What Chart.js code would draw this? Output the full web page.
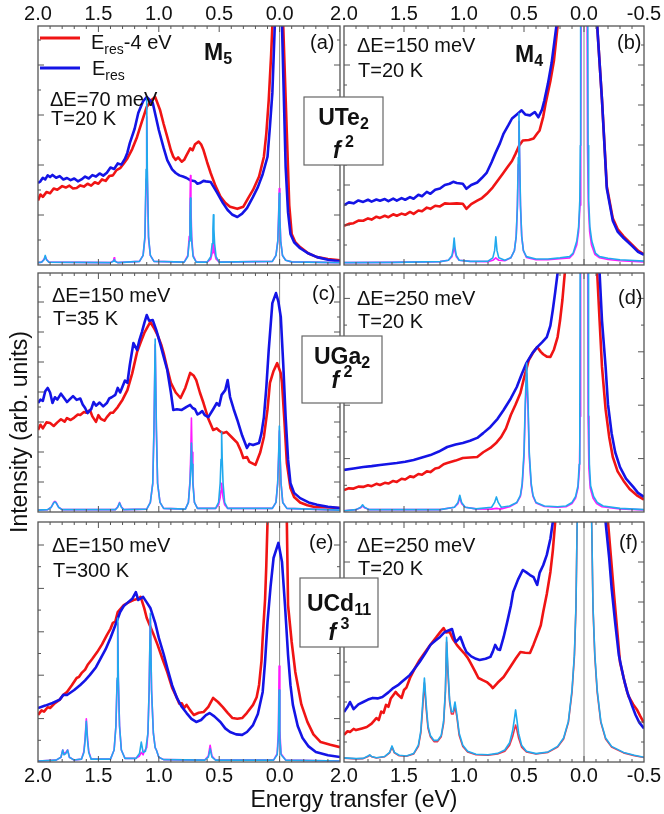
<!DOCTYPE html>
<html>
<head>
<meta charset="utf-8">
<script src="https://cdn.jsdelivr.net/npm/chart.js@4.4.0/dist/chart.umd.min.js"></script>
<style>
  body { margin: 0; background: #fff; }
  #wrap { position: relative; width: 664px; height: 814px; overflow: hidden; }
  #wrap canvas, #notes { position: absolute; left: 0; top: 0; }
</style>
</head>
<body>
<div id="wrap">
<svg id="notes" width="664" height="814" font-family="'Liberation Sans', Arial, sans-serif" fill="#111">
  <!-- legend (a) -->
  <line x1="40" y1="38" x2="80" y2="38" stroke="#f01414" stroke-width="3"/>
  <text x="91" y="49" font-size="20">E<tspan font-size="14" dy="5">res</tspan><tspan dy="-5">-4 eV</tspan></text>
  <line x1="40" y1="68" x2="80" y2="68" stroke="#1414e6" stroke-width="3"/>
  <text x="92" y="75" font-size="20">E<tspan font-size="14" dy="5">res</tspan></text>

  <text x="204" y="60" font-size="23" font-weight="bold">M<tspan font-size="16" dy="4">5</tspan></text>
  <text x="515" y="62" font-size="23" font-weight="bold">M<tspan font-size="16" dy="4">4</tspan></text>

  <text x="50" y="106" font-size="20">ΔE=70 meV</text>
  <text x="51" y="125" font-size="20">T=20 K</text>
  <text x="310" y="49" font-size="20">(a)</text>

  <text x="357" y="52" font-size="20">ΔE=150 meV</text>
  <text x="358" y="77" font-size="20">T=20 K</text>
  <text x="617" y="49" font-size="20">(b)</text>

  <text x="52" y="302" font-size="20">ΔE=150 meV</text>
  <text x="53" y="325" font-size="20">T=35 K</text>
  <text x="312" y="300" font-size="20">(c)</text>

  <text x="357" y="305" font-size="20">ΔE=250 meV</text>
  <text x="358" y="328" font-size="20">T=20 K</text>
  <text x="618" y="304" font-size="20">(d)</text>

  <text x="52" y="552" font-size="20">ΔE=150 meV</text>
  <text x="53" y="577" font-size="20">T=300 K</text>
  <text x="309" y="549" font-size="20">(e)</text>

  <text x="357" y="552" font-size="20">ΔE=250 meV</text>
  <text x="358" y="575" font-size="20">T=20 K</text>
  <text x="619" y="549" font-size="20">(f)</text>

  <!-- compound boxes -->
  <rect x="304" y="97" width="79" height="68" fill="#fff" stroke="#666" stroke-width="1.2"/>
  <text x="343.5" y="125" text-anchor="middle" font-size="23" font-weight="bold">UTe<tspan font-size="16" dy="4">2</tspan></text>
  <text x="343.5" y="158" text-anchor="middle" font-size="23" font-weight="bold"><tspan font-style="italic">f</tspan><tspan font-size="16" dy="-11"> 2</tspan></text>

  <rect x="302" y="336" width="80" height="67" fill="#fff" stroke="#666" stroke-width="1.2"/>
  <text x="342" y="364" text-anchor="middle" font-size="23" font-weight="bold">UGa<tspan font-size="16" dy="4">2</tspan></text>
  <text x="342" y="388" text-anchor="middle" font-size="23" font-weight="bold"><tspan font-style="italic">f</tspan><tspan font-size="16" dy="-11"> 2</tspan></text>

  <rect x="300" y="578" width="78" height="69" fill="#fff" stroke="#666" stroke-width="1.2"/>
  <text x="339" y="611" text-anchor="middle" font-size="23" font-weight="bold">UCd<tspan font-size="16" dy="4">11</tspan></text>
  <text x="339" y="640" text-anchor="middle" font-size="23" font-weight="bold"><tspan font-style="italic">f</tspan><tspan font-size="16" dy="-11"> 3</tspan></text>

  <!-- axis titles -->
  <text transform="translate(27,432) rotate(-90)" text-anchor="middle" font-size="23">Intensity (arb. units)</text>
  <text x="354" y="807" text-anchor="middle" font-size="23">Energy transfer (eV)</text>
</svg>
</div>
<script>
// energy transfer (eV) vs intensity (percent of panel height)

// (a) UTe2 M5
const aRed = [[2.0,27],[1.98,29.5],[1.96,28.5],[1.93,30.5],[1.90,30],[1.87,32],[1.84,31.5],[1.80,33],[1.77,32.4],[1.74,33.2],[1.71,32],[1.68,32.2],[1.65,33.3],[1.62,32.8],[1.59,34],[1.56,33.2],[1.53,34.6],[1.50,34],[1.47,35.8],[1.44,35.2],[1.41,37.2],[1.38,37.5],[1.35,39.7],[1.32,40.5],[1.29,42.5],[1.26,44.6],[1.22,48.5],[1.18,53.6],[1.14,60],[1.10,66.1],[1.06,69],[1.03,70.3],[0.99,64.9],[0.96,59],[0.93,53.6],[0.90,48],[0.88,45.3],[0.86,44],[0.84,45],[0.81,43.2],[0.79,44],[0.77,46],[0.74,48.8],[0.72,48],[0.70,50.5],[0.67,51.6],[0.65,50.5],[0.63,48.1],[0.60,43],[0.57,38.4],[0.53,33],[0.49,28.6],[0.45,26],[0.41,24.4],[0.35,23.5],[0.30,24.4],[0.26,28],[0.22,31.4],[0.17,37],[0.13,45.3],[0.11,55],[0.09,69],[0.07,88],[0.06,100],[0.02,160],[-0.03,100],[-0.06,55],[-0.08,25],[-0.10,13],[-0.13,9.5],[-0.17,7.5],[-0.24,4.8],[-0.31,3.3],[-0.40,2.5],[-0.5,2]];
const aBlue = [[2.0,34.3],[1.98,35],[1.96,36.5],[1.94,35.8],[1.92,37.5],[1.90,36.8],[1.88,37.7],[1.85,36.5],[1.82,37.2],[1.79,35.8],[1.76,36.4],[1.73,35.5],[1.70,36.2],[1.67,35],[1.64,35.8],[1.61,37],[1.58,36.2],[1.55,37.6],[1.52,37],[1.49,38.3],[1.46,37.4],[1.43,38.6],[1.40,40.8],[1.37,40.2],[1.34,42.5],[1.31,42],[1.28,44.5],[1.26,47],[1.25,49],[1.24,51],[1.20,57],[1.17,63.6],[1.13,68.5],[1.10,70.3],[1.05,67.8],[1.00,56.5],[0.96,49],[0.93,43.9],[0.89,40],[0.86,38.5],[0.83,37.5],[0.80,37],[0.77,36.4],[0.74,35.5],[0.70,35],[0.68,34],[0.66,34.3],[0.63,35.2],[0.61,35],[0.57,34.7],[0.52,30.5],[0.47,26],[0.43,23],[0.39,21],[0.35,20.1],[0.31,21.5],[0.27,23.8],[0.22,28.5],[0.18,32.6],[0.14,38],[0.10,45.3],[0.08,58],[0.06,72],[0.04,100],[0.01,160],[-0.02,100],[-0.05,41],[-0.07,22],[-0.09,13],[-0.12,9.5],[-0.17,7],[-0.24,4.8],[-0.31,3.3],[-0.40,2.2],[-0.5,1.5]];
const aCyan = [[2.0,1],[1.97,1.2],[1.95,2.2],[1.94,4],[1.93,2.2],[1.91,1.2],[1.40,1],[1.375,1.6],[1.37,2.2],[1.365,1.6],[1.34,1],[1.16,1.5],[1.13,4],[1.115,12],[1.105,40],[1.10,70],[1.095,40],[1.085,12],[1.07,4],[1.04,1.5],[0.79,1.2],[0.76,3.5],[0.748,10],[0.742,20],[0.738,28],[0.734,20],[0.728,10],[0.716,3.5],[0.69,1.2],[0.60,1.2],[0.57,3.5],[0.558,9],[0.552,15],[0.548,21],[0.544,15],[0.538,9],[0.526,3.5],[0.50,1.2],[0.06,1.5],[0.03,4],[0.015,10],[0.008,20],[0.003,30],[-0.002,20],[-0.009,10],[-0.024,4],[-0.05,2],[-0.1,1.3],[-0.5,1]];
const aPink = [[2.0,1],[1.97,1.2],[1.95,2.4],[1.94,3.5],[1.93,2.4],[1.91,1.2],[1.40,1],[1.375,1.8],[1.37,3],[1.365,1.8],[1.34,1],[1.16,1.5],[1.13,4],[1.115,11],[1.105,36],[1.10,62],[1.095,36],[1.085,11],[1.07,4],[1.04,1.5],[0.79,1.2],[0.76,4],[0.748,12],[0.742,25],[0.738,37.4],[0.734,25],[0.728,12],[0.716,4],[0.69,1.2],[0.60,1.2],[0.57,2.5],[0.558,5],[0.552,8],[0.548,10.5],[0.544,8],[0.538,5],[0.526,2.5],[0.50,1.2],[0.06,1.5],[0.03,4],[0.015,10],[0.008,21],[0.003,32],[-0.002,21],[-0.009,10],[-0.024,4],[-0.05,2],[-0.1,1.3],[-0.5,1]];

// (b) UTe2 M4
const bRed = [[2.0,16.4],[1.96,17.2],[1.92,17.5],[1.88,18.6],[1.84,18.5],[1.80,19.5],[1.77,19],[1.73,20.2],[1.70,19.7],[1.66,20.6],[1.63,20],[1.59,21.2],[1.56,20.6],[1.52,21.5],[1.49,21],[1.45,22.2],[1.42,21.4],[1.38,22.8],[1.35,22.5],[1.31,24],[1.28,23.5],[1.24,24.8],[1.20,24.5],[1.16,25.8],[1.12,25.6],[1.06,25.8],[1.01,25.6],[0.98,23.5],[0.94,25.5],[0.89,26.9],[0.85,28],[0.81,29.8],[0.76,32.5],[0.72,35.3],[0.68,38],[0.64,40.8],[0.60,43.5],[0.57,46.6],[0.54,50],[0.51,52.1],[0.46,52.3],[0.42,52.9],[0.39,55],[0.37,56.3],[0.34,62],[0.32,67.6],[0.28,77],[0.25,85.7],[0.22,100],[0.05,300],[-0.11,100],[-0.15,69],[-0.19,33],[-0.24,19.5],[-0.28,15],[-0.33,12],[-0.40,8.5],[-0.45,6],[-0.5,4.5]];
const bBlue = [[2.0,25],[1.96,26.2],[1.92,25.8],[1.88,27],[1.84,26.4],[1.80,27.3],[1.77,26.5],[1.73,27.4],[1.70,26.9],[1.66,27.6],[1.63,26.7],[1.59,27.8],[1.56,26.9],[1.52,28],[1.49,27.3],[1.45,28.4],[1.42,27.7],[1.38,29.4],[1.35,28.8],[1.31,30.6],[1.28,29.8],[1.24,31.5],[1.20,32],[1.16,33.5],[1.12,34],[1.09,34.8],[1.06,34.3],[1.01,34],[0.98,31.9],[0.94,33.5],[0.89,34.5],[0.85,36.5],[0.81,38.7],[0.77,43],[0.74,46.6],[0.70,51],[0.67,55],[0.63,58.5],[0.60,61.3],[0.56,63],[0.52,64.7],[0.49,63],[0.45,62.6],[0.41,64],[0.38,61.8],[0.35,65],[0.33,68.9],[0.30,76],[0.27,84.5],[0.23,100],[0.05,300],[-0.11,100],[-0.15,69],[-0.19,32],[-0.24,18.5],[-0.28,14],[-0.33,11.3],[-0.40,8],[-0.45,5.5],[-0.5,4.3]];
const bCyan = [[2.0,1],[1.6,1.1],[1.2,1.4],[1.13,2],[1.10,4],[1.09,7],[1.082,11.3],[1.074,7],[1.064,4],[1.04,2],[0.95,1.5],[0.80,1.6],[0.76,3],[0.745,6],[0.735,11.8],[0.725,6],[0.71,3],[0.66,2],[0.61,3],[0.58,6],[0.565,12],[0.555,25],[0.548,45],[0.542,63.5],[0.536,45],[0.529,25],[0.519,12],[0.505,6],[0.48,3.5],[0.40,2.5],[0.30,2.5],[0.20,3],[0.12,3.5],[0.09,5],[0.06,10],[0.045,16],[0.035,27],[0.031,50],[0.028,100],[0.0,400],[-0.031,100],[-0.034,50],[-0.039,27],[-0.049,16],[-0.065,10],[-0.095,5],[-0.13,3.5],[-0.20,2.8],[-0.3,2.2],[-0.5,1.6]];
const bPink = [[2.0,1],[1.6,1.1],[1.2,1.4],[1.13,2],[1.10,3.5],[1.09,5.5],[1.082,8],[1.074,5.5],[1.064,3.5],[1.04,2],[0.95,1.5],[0.80,1.4],[0.76,2],[0.745,2.5],[0.735,3],[0.725,2.5],[0.71,2],[0.66,1.8],[0.61,3],[0.58,6],[0.565,12],[0.555,24],[0.548,42],[0.542,60],[0.536,42],[0.529,24],[0.519,12],[0.505,6],[0.48,3.2],[0.40,2.2],[0.30,2.2],[0.20,2.6],[0.12,3],[0.09,4.5],[0.06,8.5],[0.045,14],[0.033,25],[0.027,50],[0.024,100],[0.0,400],[-0.026,100],[-0.029,50],[-0.036,25],[-0.047,14],[-0.062,8.5],[-0.09,4.5],[-0.13,3],[-0.20,2.3],[-0.3,1.8],[-0.5,1.3]];

// (c) UGa2 M5
const cRed = [[2.0,34.3],[1.98,36.5],[1.96,35],[1.93,37.5],[1.90,37.2],[1.87,36],[1.84,37.5],[1.81,38.8],[1.78,37.8],[1.76,39.3],[1.73,38.5],[1.70,39.5],[1.67,40.8],[1.65,40.6],[1.62,41.8],[1.60,41.5],[1.57,42.7],[1.55,40],[1.52,37.7],[1.50,40.5],[1.48,39],[1.45,38.2],[1.43,39.7],[1.40,41.5],[1.38,41.5],[1.34,43.9],[1.30,47],[1.26,51],[1.22,58],[1.18,66.9],[1.15,71],[1.12,74.9],[1.07,79.5],[1.04,77],[1.01,74],[0.98,70],[0.96,66.5],[0.93,60],[0.90,54],[0.86,50],[0.82,47.7],[0.78,52],[0.74,58.2],[0.71,57],[0.69,55.2],[0.66,50],[0.63,45.6],[0.59,39],[0.55,34.3],[0.52,35],[0.50,34],[0.47,33],[0.44,33.5],[0.40,31.5],[0.35,28.9],[0.32,25.5],[0.30,22.6],[0.27,23],[0.25,21],[0.20,19.7],[0.16,25],[0.13,31.4],[0.10,43],[0.08,54],[0.05,59],[0.02,62.3],[-0.01,58],[-0.02,54],[-0.04,38],[-0.06,20.5],[-0.09,10],[-0.12,6.3],[-0.17,4],[-0.23,2.8],[-0.29,2.1],[-0.4,1.9],[-0.5,1.7]];
const cBlue = [[2.0,45.6],[1.98,47],[1.96,46.5],[1.94,50.5],[1.92,51.9],[1.90,50],[1.88,45.6],[1.86,48],[1.84,47],[1.81,49.5],[1.79,48.1],[1.76,46],[1.74,47],[1.71,48.5],[1.68,46.9],[1.65,47.5],[1.63,45],[1.61,43.5],[1.59,41.4],[1.56,43],[1.54,46],[1.52,44.5],[1.49,45.8],[1.46,44.2],[1.43,45.6],[1.41,47.5],[1.39,48],[1.36,49],[1.34,51.9],[1.32,50],[1.30,52.5],[1.28,55],[1.26,54],[1.24,61.5],[1.21,70.7],[1.18,67.8],[1.16,72],[1.14,75.3],[1.12,79],[1.10,82.4],[1.08,80],[1.05,80.3],[1.02,76],[0.99,70.7],[0.96,65],[0.93,59.4],[0.90,50],[0.88,42.7],[0.85,43],[0.81,42.7],[0.77,44],[0.74,44.8],[0.72,43.5],[0.70,43],[0.68,40.8],[0.66,41.4],[0.64,42.2],[0.62,40.5],[0.59,39.7],[0.55,43],[0.52,45.6],[0.50,44.5],[0.48,49],[0.45,51],[0.43,55.2],[0.41,48.1],[0.38,43],[0.35,38.5],[0.31,32],[0.27,26.8],[0.25,28.5],[0.22,28],[0.17,28.9],[0.15,33],[0.13,39.7],[0.11,52],[0.09,67.8],[0.06,87.4],[0.03,91.6],[0.01,88],[-0.01,81.6],[-0.03,62],[-0.05,39.7],[-0.07,22],[-0.09,12],[-0.12,8],[-0.17,5.8],[-0.24,4],[-0.31,3],[-0.4,2.2],[-0.5,1.7]];
const cCyan = [[2.0,0.8],[1.92,1],[1.89,2],[1.87,3.8],[1.86,4.2],[1.85,3.8],[1.83,2],[1.80,1],[1.36,1],[1.34,2],[1.325,3.8],[1.31,2],[1.29,1],[1.10,1.2],[1.07,4],[1.05,12],[1.04,35],[1.03,72.4],[1.02,35],[1.01,12],[0.99,4],[0.96,1.5],[0.78,1.2],[0.755,4],[0.742,12],[0.735,20],[0.73,28.9],[0.725,20],[0.718,12],[0.705,4],[0.68,1.5],[0.53,1.5],[0.505,4],[0.492,12],[0.485,22],[0.48,33.5],[0.475,22],[0.468,12],[0.455,4],[0.43,1.5],[0.06,1.5],[0.03,4],[0.016,12],[0.008,24],[0.002,36],[-0.004,24],[-0.012,12],[-0.026,4],[-0.06,1.5],[-0.5,0.8]];
const cPink = [[2.0,0.8],[1.92,1],[1.89,2],[1.87,4],[1.86,4.5],[1.85,4],[1.83,2],[1.80,1],[1.36,1],[1.34,2.2],[1.325,4],[1.31,2.2],[1.29,1],[1.10,1.2],[1.07,4],[1.05,12],[1.04,34],[1.03,70],[1.02,34],[1.01,12],[0.99,4],[0.96,1.5],[0.78,1.2],[0.755,4],[0.742,13],[0.735,25],[0.73,39.3],[0.725,25],[0.718,13],[0.705,4],[0.68,1.5],[0.53,1.5],[0.505,3],[0.492,6],[0.485,9],[0.48,12],[0.475,9],[0.468,6],[0.455,3],[0.43,1.5],[0.06,1.5],[0.03,4],[0.016,12],[0.008,23],[0.002,34],[-0.004,23],[-0.012,12],[-0.026,4],[-0.06,1.5],[-0.5,0.8]];

// (d) UGa2 M4
const dRed = [[2.0,9.2],[1.96,9.9],[1.92,9.8],[1.88,10.6],[1.84,10.5],[1.80,11.2],[1.77,10.8],[1.73,11.8],[1.70,11.3],[1.66,12.2],[1.63,11.9],[1.59,13],[1.56,12.6],[1.52,13.9],[1.49,13.6],[1.45,14.9],[1.42,14.6],[1.38,15.9],[1.35,15.6],[1.31,17],[1.28,16.7],[1.24,18.2],[1.21,18.5],[1.17,20],[1.14,20.5],[1.07,21.5],[1.01,22.6],[0.95,22.8],[0.89,23],[0.84,25],[0.78,26.8],[0.73,29],[0.69,31.4],[0.65,35],[0.61,40.6],[0.57,45],[0.53,49.8],[0.50,56],[0.46,63.6],[0.42,67],[0.39,69],[0.36,67],[0.34,66],[0.31,65],[0.28,64.9],[0.25,68],[0.22,73.2],[0.20,80],[0.18,88.7],[0.16,100],[0.0,300],[-0.11,100],[-0.13,80],[-0.15,60.7],[-0.18,43],[-0.21,31.4],[-0.24,23],[-0.28,17],[-0.33,13],[-0.38,9.6],[-0.44,7],[-0.5,5.2]];
const dBlue = [[2.0,17.6],[1.92,18.2],[1.84,18.8],[1.77,19.2],[1.70,19.7],[1.63,20.1],[1.56,20.5],[1.49,21],[1.42,21.8],[1.35,22.8],[1.28,23.8],[1.21,25.3],[1.14,27.2],[1.07,28.2],[1.01,28.9],[0.95,29.8],[0.89,31],[0.84,33],[0.78,35.6],[0.72,39],[0.67,42.7],[0.61,47.5],[0.56,52.3],[0.52,57.5],[0.48,62.3],[0.43,66.5],[0.39,69],[0.35,71],[0.31,73.2],[0.28,78],[0.26,84.5],[0.24,92],[0.22,100],[0.05,300],[-0.13,100],[-0.15,80],[-0.18,60.7],[-0.20,45],[-0.23,33],[-0.26,25],[-0.30,18.8],[-0.35,14],[-0.41,10.5],[-0.45,8],[-0.5,6.3]];
const dCyan = [[2.0,0.5],[1.90,1],[1.86,2],[1.845,3],[1.83,2],[1.79,1],[1.2,1],[1.08,2],[1.05,4],[1.035,7],[1.02,4],[0.99,2],[0.90,1.3],[0.77,2],[0.745,4],[0.73,6.3],[0.715,4],[0.69,2],[0.62,2.5],[0.56,4],[0.53,7],[0.515,12],[0.50,25],[0.49,45],[0.478,62.3],[0.466,45],[0.456,25],[0.44,12],[0.425,7],[0.40,4],[0.33,2.5],[0.22,2.2],[0.15,2.5],[0.10,4],[0.07,6.5],[0.05,11],[0.04,20],[0.035,40],[0.032,100],[0.0,400],[-0.035,100],[-0.038,40],[-0.045,20],[-0.055,11],[-0.08,6.5],[-0.11,4],[-0.16,2.5],[-0.3,1.5],[-0.5,1]];
const dPink = [[2.0,0.5],[1.90,1],[1.86,1.8],[1.845,2.5],[1.83,1.8],[1.79,1],[1.2,1],[1.08,2],[1.05,3.5],[1.035,6],[1.02,3.5],[0.99,2],[0.90,1.3],[0.77,1.2],[0.745,1.4],[0.73,1.5],[0.715,1.4],[0.69,1.3],[0.62,2.2],[0.56,3.8],[0.53,6.5],[0.515,11],[0.50,23],[0.49,42],[0.478,58],[0.466,42],[0.456,23],[0.44,11],[0.425,6.5],[0.40,3.8],[0.33,2.3],[0.22,2],[0.15,2.2],[0.10,3.5],[0.07,5.8],[0.05,10],[0.038,18],[0.032,40],[0.028,100],[0.0,400],[-0.031,100],[-0.034,40],[-0.041,18],[-0.052,10],[-0.075,5.8],[-0.105,3.5],[-0.15,2.2],[-0.3,1.3],[-0.5,0.9]];

// (e) UCd11 M5
const eRed = [[2.0,19.6],[1.97,21.5],[1.95,21],[1.92,22.8],[1.90,22.5],[1.86,24.5],[1.82,26],[1.79,28],[1.76,29.2],[1.72,32],[1.68,35],[1.66,35.5],[1.64,37],[1.61,38.5],[1.59,40.4],[1.55,43],[1.51,45.8],[1.47,49],[1.43,52.9],[1.40,55.5],[1.38,58],[1.36,58.5],[1.34,62.5],[1.29,65.4],[1.25,66.5],[1.21,67.5],[1.17,68],[1.15,68.8],[1.12,64],[1.10,60],[1.05,54],[1.01,48.8],[0.97,43],[0.93,37.5],[0.89,31],[0.85,26.7],[0.83,24.3],[0.81,24.5],[0.79,22.5],[0.77,23.8],[0.74,21.5],[0.71,19.6],[0.67,20.5],[0.63,20.8],[0.59,23],[0.55,26.7],[0.51,25],[0.47,22.9],[0.43,20.5],[0.39,18.3],[0.35,18],[0.31,18.3],[0.27,20.5],[0.22,23.8],[0.19,27],[0.17,32.1],[0.15,42],[0.14,51.7],[0.12,68],[0.11,82],[0.10,100],[0.02,200],[-0.06,100],[-0.07,65.4],[-0.10,50],[-0.13,37.5],[-0.18,24],[-0.23,16.7],[-0.28,11.5],[-0.34,8.3],[-0.42,7.2],[-0.5,6.2]];
const eBlue = [[2.0,22.5],[1.94,23.5],[1.88,24.6],[1.82,26],[1.79,28],[1.76,27.9],[1.70,30],[1.65,32.1],[1.61,34],[1.57,36.3],[1.52,39.5],[1.48,43.3],[1.44,47],[1.40,51.7],[1.36,57],[1.32,62.5],[1.29,65],[1.26,66.3],[1.22,68],[1.19,70.8],[1.17,67.5],[1.13,68.8],[1.10,66.5],[1.07,64.2],[1.03,58],[1.00,51.7],[0.96,45],[0.93,39.2],[0.89,32],[0.85,26.7],[0.81,23],[0.77,20.4],[0.73,18],[0.69,16.7],[0.65,17.5],[0.61,19.5],[0.58,20.4],[0.54,19],[0.49,16.7],[0.45,14],[0.41,12.5],[0.36,11.5],[0.31,11.3],[0.27,12.5],[0.22,15.4],[0.18,20],[0.14,29.2],[0.12,42],[0.10,58.3],[0.075,73],[0.05,85],[0.01,91.3],[-0.02,83.3],[-0.045,65],[-0.07,44.6],[-0.09,32],[-0.11,23.8],[-0.15,15],[-0.19,10],[-0.24,6.5],[-0.30,4.2],[-0.40,2.8],[-0.5,2.1]];
const eCyan = [[2.0,0.4],[1.85,0.8],[1.81,2],[1.795,5],[1.785,3],[1.77,3.5],[1.755,5],[1.74,2],[1.70,0.8],[1.64,1.2],[1.62,4],[1.61,9],[1.60,17],[1.59,9],[1.58,4],[1.56,1.2],[1.40,1.2],[1.37,5],[1.355,15],[1.345,35],[1.34,60],[1.335,35],[1.325,15],[1.31,5],[1.28,1.5],[1.19,1.5],[1.16,3.5],[1.145,8.3],[1.13,4],[1.11,4.5],[1.09,12],[1.08,30],[1.07,62],[1.06,30],[1.045,12],[1.03,6],[1.02,5],[1.00,2],[0.96,1],[0.62,0.8],[0.59,2],[0.575,5.5],[0.56,2],[0.53,0.8],[0.05,0.8],[0.02,3],[0.01,10],[0.004,30],[-0.002,10],[-0.012,3],[-0.05,0.8],[-0.5,0.4]];
const ePink = [[2.0,0.4],[1.85,0.8],[1.81,2],[1.795,5],[1.785,3.5],[1.77,4],[1.755,5],[1.74,2],[1.70,0.8],[1.64,1.2],[1.62,4.5],[1.61,10],[1.60,18],[1.59,10],[1.58,4.5],[1.56,1.2],[1.40,1.2],[1.37,5],[1.355,15],[1.345,34],[1.34,58],[1.335,34],[1.325,15],[1.31,5],[1.28,1.5],[1.19,1.5],[1.16,2.5],[1.145,4],[1.13,3],[1.12,4.5],[1.10,6],[1.09,12],[1.08,30],[1.07,60],[1.06,30],[1.045,12],[1.03,6],[1.02,5],[1.00,2],[0.96,1],[0.62,0.8],[0.59,2.5],[0.575,7],[0.56,2.5],[0.53,0.8],[0.05,0.8],[0.02,3.5],[0.01,13],[0.004,40],[-0.002,13],[-0.012,3.5],[-0.05,0.8],[-0.5,0.4]];

// (f) UCd11 M4
const fRed = [[2.0,11.3],[1.97,12.8],[1.95,12.5],[1.92,13.8],[1.90,13.3],[1.85,14],[1.81,14.6],[1.77,16],[1.73,18.3],[1.71,17.5],[1.69,21],[1.67,20.5],[1.65,23.8],[1.63,23],[1.61,26.5],[1.57,29.2],[1.55,28],[1.52,26.7],[1.50,30],[1.48,31],[1.45,35],[1.41,39],[1.37,42.5],[1.32,46],[1.28,48.8],[1.23,52.1],[1.20,54],[1.17,55.8],[1.15,54],[1.12,54.2],[1.09,51],[1.06,48.8],[1.03,47],[1.00,45.4],[0.97,43.5],[0.95,41.7],[0.91,38],[0.88,35],[0.84,34],[0.81,33.3],[0.78,32],[0.76,30.8],[0.72,33],[0.67,35.4],[0.62,39.2],[0.57,43],[0.53,45.8],[0.49,45.5],[0.45,45.4],[0.42,49],[0.39,52.9],[0.36,57],[0.34,62.5],[0.31,70],[0.28,79.2],[0.26,88],[0.24,100],[0.02,300],[-0.2,100],[-0.23,82],[-0.25,70],[-0.28,53],[-0.30,41.6],[-0.34,33],[-0.37,27.5],[-0.41,24],[-0.44,21.9],[-0.47,19],[-0.5,16.3]];
const fBlue = [[2.0,20.8],[1.97,23],[1.95,25],[1.92,22],[1.88,24],[1.84,25],[1.80,26],[1.76,26.7],[1.72,26.5],[1.68,27.1],[1.63,29],[1.59,30.8],[1.55,32],[1.52,33.3],[1.48,35],[1.45,36.3],[1.41,39],[1.37,41.7],[1.32,45.5],[1.28,48.8],[1.24,50.5],[1.20,52.1],[1.16,54.2],[1.13,54.8],[1.10,55.4],[1.07,50],[1.05,51],[1.03,52.1],[1.00,48],[0.98,45.8],[0.94,44],[0.90,43],[0.87,42.5],[0.82,43],[0.78,43.8],[0.76,46],[0.74,48.8],[0.72,47],[0.70,46.7],[0.67,52],[0.64,58.3],[0.61,65],[0.59,70.8],[0.55,76],[0.51,80],[0.48,79],[0.45,77.9],[0.42,77],[0.39,73.8],[0.37,78.8],[0.34,82],[0.31,86.3],[0.28,93],[0.26,100],[0.05,300],[-0.18,100],[-0.21,85],[-0.23,72.5],[-0.26,58],[-0.29,44.6],[-0.33,35],[-0.36,29.2],[-0.40,23.5],[-0.43,19.6],[-0.46,16.5],[-0.5,14]];
const fCyan = [[2.0,1.7],[1.90,1.4],[1.84,1.5],[1.80,2.5],[1.785,3],[1.77,2.3],[1.73,1.8],[1.66,2.3],[1.62,4],[1.60,6.7],[1.58,4],[1.54,2.8],[1.48,2.5],[1.42,3.5],[1.38,7],[1.36,13],[1.345,24],[1.33,35],[1.315,24],[1.30,15],[1.28,11],[1.25,9],[1.22,9],[1.19,11],[1.17,17],[1.155,30],[1.145,52],[1.135,40],[1.12,26],[1.105,21],[1.09,21],[1.075,25],[1.06,20],[1.04,12],[1.01,7],[0.97,4.5],[0.90,3.2],[0.80,3],[0.72,3.6],[0.66,5],[0.62,8],[0.595,13],[0.58,18],[0.57,21.7],[0.56,18],[0.545,12],[0.52,7],[0.48,4.5],[0.40,3.5],[0.30,4.2],[0.22,6.5],[0.17,10],[0.13,17],[0.10,30],[0.08,45],[0.067,65],[0.057,100],[0.0,400],[-0.064,100],[-0.075,65],[-0.09,45],[-0.11,30],[-0.14,17],[-0.18,10],[-0.23,6.5],[-0.33,4],[-0.42,2.8],[-0.5,2]];
const fPink = [[2.0,1.6],[1.90,1.3],[1.84,1.4],[1.80,2.3],[1.785,2.8],[1.77,2.2],[1.73,1.7],[1.66,2.2],[1.62,3.8],[1.60,6.2],[1.58,3.8],[1.54,2.6],[1.48,2.4],[1.42,3.3],[1.38,6.5],[1.36,12],[1.345,22],[1.33,33],[1.315,22],[1.30,14],[1.28,10.5],[1.25,8.5],[1.22,8.5],[1.19,10.5],[1.17,16],[1.155,29],[1.145,50],[1.135,38],[1.12,25],[1.105,20],[1.09,20],[1.075,23],[1.06,19],[1.04,11],[1.01,6.5],[0.97,4.2],[0.90,3],[0.80,2.8],[0.72,3.3],[0.66,4.5],[0.62,7],[0.595,10.5],[0.58,13.5],[0.57,15.4],[0.56,13.5],[0.545,10],[0.52,6.2],[0.48,4.2],[0.40,3.3],[0.30,4],[0.22,6.2],[0.17,9.6],[0.13,16.5],[0.10,29],[0.08,44],[0.067,64],[0.057,100],[0.0,400],[-0.064,100],[-0.075,64],[-0.09,44],[-0.11,29],[-0.14,16.5],[-0.18,9.6],[-0.23,6.2],[-0.33,3.8],[-0.42,2.6],[-0.5,1.9]];

// layout of the 2 x 3 grid (pixels)
const rows = [{top: 26, bottom: 265}, {top: 273, bottom: 512}, {top: 522, bottom: 762}];
const cols = [{left: 38, right: 340}, {left: 344, right: 644}];
const TOP_AXIS = 26, BOTTOM_AXIS = 30;

const RED = '#f01414', BLUE = '#1414e6', CYAN = '#21a9ee', PINK = '#ff1aff';

const panels = [
  {row: 0, col: 0, red: aRed, blue: aBlue, cyan: aCyan, pink: aPink, pinkColor: PINK, tickPx: 25},
  {row: 0, col: 1, red: bRed, blue: bBlue, cyan: bCyan, pink: bPink, pinkColor: PINK, tickPx: 20},
  {row: 1, col: 0, red: cRed, blue: cBlue, cyan: cCyan, pink: cPink, pinkColor: PINK, tickPx: 15},
  {row: 1, col: 1, red: dRed, blue: dBlue, cyan: dCyan, pink: dPink, pinkColor: PINK, tickPx: 26.7},
  {row: 2, col: 0, red: eRed, blue: eBlue, cyan: eCyan, pink: ePink, pinkColor: PINK, tickPx: 21.7},
  {row: 2, col: 1, red: fRed, blue: fBlue, cyan: fCyan, pink: fPink, pinkColor: '#f03048', tickPx: 20}
];

// zero line, frame and inward ticks
const framePlugin = {
  id: 'frame',
  beforeDatasetsDraw(chart) {
    const {ctx, chartArea: a, scales: {x}} = chart;
    const x0 = x.getPixelForValue(0);
    ctx.save();
    ctx.strokeStyle = '#8a8a8a';
    ctx.lineWidth = 1;
    ctx.beginPath();
    ctx.moveTo(x0, a.top);
    ctx.lineTo(x0, a.bottom);
    ctx.stroke();
    ctx.restore();
  },
  afterDatasetsDraw(chart) {
    const {ctx, chartArea: a, scales: {x, y}} = chart;
    const step = chart.options.scales.y.ticks.stepSize;
    ctx.save();
    ctx.strokeStyle = '#555';
    ctx.lineWidth = 1.3;
    ctx.strokeRect(a.left, a.top, a.right - a.left, a.bottom - a.top);
    ctx.lineWidth = 1;
    ctx.beginPath();
    x.ticks.forEach(t => {
      const k = Math.round(t.value * 10);
      const px = x.getPixelForValue(t.value);
      if (px <= a.left + 1 || px >= a.right - 1) return;
      const len = k % 5 === 0 ? 6 : 3;
      ctx.moveTo(px, a.top); ctx.lineTo(px, a.top + len);
      ctx.moveTo(px, a.bottom); ctx.lineTo(px, a.bottom - len);
    });
    y.ticks.forEach(t => {
      if (t.value <= 0.5 || t.value >= 99.5) return;
      const py = y.getPixelForValue(t.value);
      const len = Math.round(t.value / step) % 2 === 0 ? 6 : 3;
      ctx.moveTo(a.left, py); ctx.lineTo(a.left + len, py);
      ctx.moveTo(a.right, py); ctx.lineTo(a.right - len, py);
    });
    ctx.stroke();
    ctx.restore();
  }
};

const wrap = document.getElementById('wrap');
const notes = document.getElementById('notes');

panels.forEach(p => {
  const r = rows[p.row], c = cols[p.col];
  const cv = document.createElement('canvas');
  cv.width = 664;
  cv.height = 814;
  wrap.insertBefore(cv, notes);

  const axisH = p.row === 0 ? TOP_AXIS : (p.row === 2 ? BOTTOM_AXIS : 0);
  const H = r.bottom - r.top;

  new Chart(cv, {
    type: 'line',
    plugins: [framePlugin],
    data: {
      datasets: [
        {data: p.cyan, borderColor: CYAN, borderWidth: 1.6},
        {data: p.pink, borderColor: p.pinkColor, borderWidth: 1.6},
        {data: p.blue, borderColor: BLUE, borderWidth: 2.6},
        {data: p.red, borderColor: RED, borderWidth: 2.6}
      ]
    },
    options: {
      responsive: false,
      animation: false,
      events: [],
      elements: {point: {radius: 0}, line: {tension: 0, borderJoinStyle: 'round'}},
      layout: {
        padding: {
          left: c.left,
          right: 664 - c.right,
          top: p.row === 0 ? r.top - axisH : r.top,
          bottom: p.row === 2 ? 814 - r.bottom - axisH : 814 - r.bottom
        }
      },
      scales: {
        x: {
          type: 'linear',
          reverse: true,
          min: -0.5,
          max: 2.0,
          position: p.row === 0 ? 'top' : 'bottom',
          grid: {display: false, drawTicks: false},
          border: {display: false},
          ticks: {
            display: p.row !== 1,
            stepSize: 0.1,
            autoSkip: false,
            maxRotation: 0,
            padding: p.row === 0 ? 0 : 2,
            color: '#111',
            font: {family: "'Liberation Sans', Arial, sans-serif", size: 20},
            callback: (v) => {
              const k = Math.round(v * 10);
              if (k % 5 !== 0) return '';
              if (p.col === 0 && k === -5) return '';
              return (k / 10).toFixed(1);
            }
          },
          afterFit: (s) => { s.height = axisH; }
        },
        y: {
          min: 0,
          max: 100,
          grid: {display: false, drawTicks: false},
          border: {display: false},
          ticks: {display: false, stepSize: p.tickPx / H * 100},
          afterFit: (s) => { s.width = 0; }
        }
      },
      plugins: {legend: {display: false}, tooltip: {enabled: false}}
    }
  });
});
</script>
</body>
</html>
